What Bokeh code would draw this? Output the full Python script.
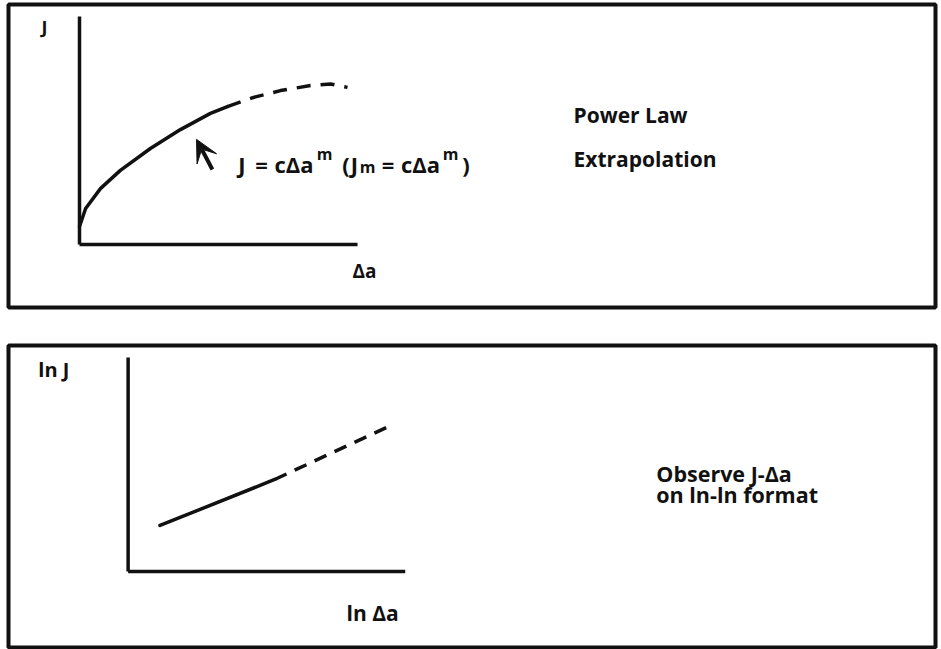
from bokeh.plotting import figure
from bokeh.layouts import column
from bokeh.models import Arrow, VeeHead, Range1d
from bokeh.core.properties import value
from bokeh.embed import file_html
from bokeh.resources import INLINE

# ---- J vs crack extension (power law), normalised axes 0..1 ----
da_measured = [0.0, 0.022, 0.076, 0.147, 0.255, 0.363, 0.471, 0.532]
j_measured = [0.079, 0.158, 0.246, 0.325, 0.421, 0.504, 0.575, 0.605]
da_extrap = [0.532, 0.626, 0.723, 0.831, 0.903, 0.964]
j_extrap = [0.605, 0.645, 0.675, 0.697, 0.704, 0.689]

# ---- ln J vs ln Δa (straight line), normalised axes 0..1 ----
lnda_measured = [0.115, 0.529]
lnj_measured = [0.215, 0.430]
lnda_extrap = [0.529, 0.932]
lnj_extrap = [0.430, 0.673]

INK = "#111111"
FONT = value("Open Sans")


def panel(width, height, xr, yr, borders):
    p = figure(width=width, height=height, x_range=Range1d(*xr), y_range=Range1d(*yr),
               output_backend="svg", toolbar_location=None, tools="")
    p.xaxis.visible = False
    p.yaxis.visible = False
    p.xgrid.visible = False
    p.ygrid.visible = False
    p.min_border_left, p.min_border_right, p.min_border_top, p.min_border_bottom = borders
    p.outline_line_color = INK
    p.outline_line_width = 4
    p.background_fill_color = "white"
    p.border_fill_color = "white"
    # plain L-shaped axes
    p.segment(x0=[0, 0], y0=[0, 0], x1=[0, 1], y1=[1, 0], line_color=INK, line_width=3.5)
    return p


def label(p, x, y, text, size, align="left"):
    p.text(x=[x], y=[y], text=[text], text_font=FONT, text_font_style="bold",
           text_font_size=size, text_color=INK, text_baseline="alphabetic", text_align=align)


# ---------------- top panel ----------------
top = panel(941, 325, (-0.2554, 3.0791), (-0.2763, 1.0526), (8, 6, 4, 18))
top.line(da_measured, j_measured, line_color=INK, line_width=3.5, line_cap="round")
top.line(da_extrap, j_extrap, line_color=INK, line_width=3.5, line_dash="14 10")

label(top, -0.137, 0.952, "J", "18px")
label(top, 0.982, -0.118, "Δa", "19px")
label(top, 1.777, 0.570, "Power Law", "21px")
label(top, 1.777, 0.377, "Extrapolation", "21px")

# J = cΔa^m (J_m = cΔa^m)
main_parts = ["J", "=", "cΔa", "(", "J", "=", "cΔa", ")"]
main_x = [0.5845, 0.6547, 0.7716, 0.9586, 0.9892, 1.1097, 1.2266, 1.3903]
top.text(x=main_x, y=[0.355] * len(main_x), text=main_parts, text_font=FONT,
         text_font_style="bold", text_font_size="22px", text_color=INK,
         text_baseline="alphabetic", text_align="center")
label(top, 0.8813, 0.395, "m", "16px", "center")
label(top, 1.0360, 0.342, "m", "16px", "center")
label(top, 1.3345, 0.395, "m", "16px", "center")

top.add_layout(Arrow(x_start=0.478, y_start=0.329, x_end=0.421, y_end=0.461,
                     line_color=INK, line_width=4,
                     end=VeeHead(size=22, fill_color=INK, line_color=INK)))

# ---------------- bottom panel ----------------
bot = panel(941, 324, (-0.4317, 2.9137), (-0.3551, 1.0561), (8, 3, 20, 2))
bot.line(lnda_measured, lnj_measured, line_color=INK, line_width=3.5, line_cap="round")
bot.line(lnda_extrap, lnj_extrap, line_color=INK, line_width=3.5, line_dash="13 9")

label(bot, -0.324, 0.944, "ln J", "20px")
label(bot, 0.788, -0.196, "ln Δa", "21px")
label(bot, 1.906, 0.458, "Observe J-Δa", "21.5px")
label(bot, 1.906, 0.360, "on ln-ln format", "21.5px")

page = column(top, bot, spacing=0)
open("out.html", "w").write(file_html(page, INLINE))
